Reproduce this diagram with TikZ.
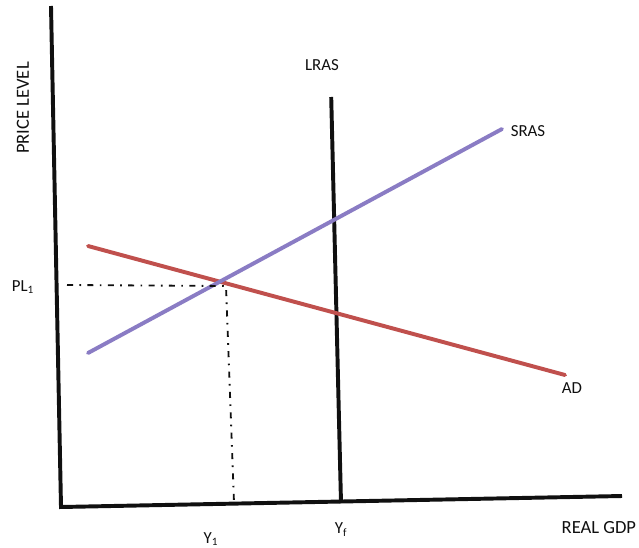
\documentclass[tikz,border=0pt]{standalone}
\usepackage{fontspec}
\setmainfont{Carlito}
\usepackage{xcolor}
\definecolor{adRed}{HTML}{C0504D}
\definecolor{srasPurple}{HTML}{8A7CC4}
\definecolor{axisBlack}{HTML}{101010}
\usetikzlibrary{calc}

\begin{document}
\begin{tikzpicture}[font=\fontsize{12}{14}\selectfont]
  \tikzset{
    axis/.style={draw=axisBlack,line width=2.8pt},
    curve/.style={line width=2.8pt,line cap=round},
    guide/.style={draw=axisBlack,line width=1.3pt,
      dash pattern=on 4.3pt off 4.5pt on 1.2pt off 4.5pt},
    lbl/.style={text=axisBlack,inner sep=1pt},
    axislbl/.style={lbl,font=\fontsize{13.2}{15}\selectfont},
  }

  \path[use as bounding box] (0,0) rectangle (15.975,13.675);

  % Axes (slightly tilted, as in the scan).
  \coordinate (top) at (1.275,13.525);
  \coordinate (O) at (1.525,1.0);
  \coordinate (right) at (15.55,1.275);
  \draw[axis] (top) -- (O) -- (right);

  % Long-run supply.
  \coordinate (lrasTop) at (8.28,11.25);
  \coordinate (lrasBot) at (8.525,1.10);
  \draw[axis] (lrasTop) -- (lrasBot);

  % Short-run supply and demand.
  \coordinate (srasA) at (2.20,4.85);
  \coordinate (srasB) at (12.55,10.45);
  \coordinate (adA) at (2.20,7.525);
  \coordinate (adB) at (14.125,4.30);
  \draw[curve,adRed] (adA) -- (adB);
  \draw[curve,srasPurple] (srasA) -- (srasB);

  % Equilibrium guides.
  \coordinate (plLeft) at (1.675,6.55);
  \coordinate (E) at (5.65,6.525);
  \coordinate (yBot) at (5.85,1.10);
  \draw[guide] (plLeft) -- (E) -- (yBot);

  \node[axislbl,rotate=90] (price) at (0.575,10.975) {PRICE LEVEL};
  \node[axislbl,anchor=west] (gdp) at (14.0,0.475) {REAL GDP};
  \node[lbl] (pl) at (0.575,6.50) {PL\textsubscript{1}};
  \node[lbl] (y1) at (5.275,0.20) {Y\textsubscript{1}};
  \node[lbl] (yf) at (8.525,0.44) {Y\textsubscript{f}};
  \node[lbl] (lras) at (8.05,12.05) {LRAS};
  \node[lbl] (sras) at (13.20,10.40) {SRAS};
  \node[lbl] (ad) at (14.30,3.975) {AD};
\end{tikzpicture}
\end{document}
